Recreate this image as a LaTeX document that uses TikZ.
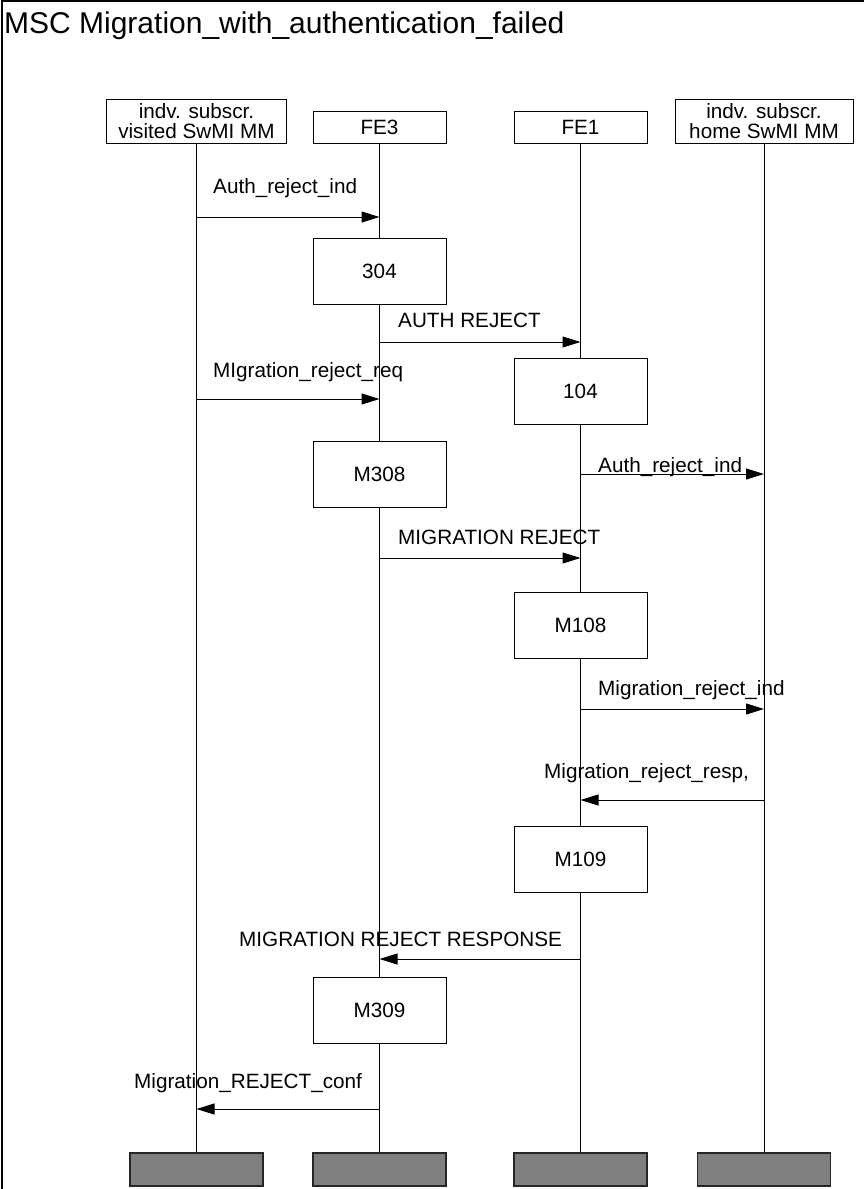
\documentclass[tikz,border=0pt]{standalone}
\usepackage{fontspec}
\setmainfont{Liberation Sans}
\usetikzlibrary{arrows.meta, positioning}
\newcommand\msgfont{\fontsize{20.7}{20.5}\selectfont}
\newcommand\titlefont{\fontsize{30}{32}\selectfont}
\tikzset{
  hdr/.style={rectangle, draw=black, fill=white, line width=1pt,
              align=center, inner sep=1pt, font=\msgfont,
              minimum width=133pt, minimum height=#1},
  hdr/.default=32pt,
  proc/.style={rectangle, draw=black, fill=white, line width=1pt,
               font=\msgfont, minimum width=133pt, minimum height=66pt},
  endbar/.style={rectangle, draw=black!85, fill=black!50, line width=1.2pt,
                 minimum width=133pt, minimum height=33pt},
  life/.style={draw=black, line width=1pt},
  msg/.style={-{Triangle[length=18pt, width=11pt]}, line width=1pt, draw=black},
  lbl/.style={font=\msgfont, inner sep=0pt, anchor=base west}
}

\begin{document}
\begin{tikzpicture}[x=1pt, y=-1pt]
  \useasboundingbox (0,0) rectangle (864,1189);

  %% frame and title
  \draw[line width=1.5pt] (2,1189) -- (2,1) -- (864,1);
  \node[font=\titlefont, inner sep=0pt, anchor=base west] (title) at (4,33)
    {MSC Migration\_with\_authentication\_failed};

  %% instances
  \node[hdr=44pt, minimum width=180pt] (vis)  at (196.5,121) {indv. subscr.\\visited SwMI MM};
  \node[hdr]                           (fe3)  at (379.5,127) {FE3};
  \node[hdr]                           (fe1)  at (580.5,127) {FE1};
  \node[hdr=44pt, minimum width=178pt] (home) at (764,121)   {indv. subscr.\\home SwMI MM};

  %% instance ends
  \node[endbar] (visE)  at (196.5,1169.5) {};
  \node[endbar] (fe3E)  at (379.5,1169.5) {};
  \node[endbar] (fe1E)  at (580.5,1169.5) {};
  \node[endbar] (homeE) at (764,1169.5)   {};

  %% life lines
  \draw[life] (vis.south)  -- (visE.north);
  \draw[life] (fe3.south)  -- (fe3E.north);
  \draw[life] (fe1.south)  -- (fe1E.north);
  \draw[life] (home.south) -- (homeE.north);

  %% actions
  \node[proc] (p304)  at (379.5,271)    {304};
  \node[proc] (p104)  at (580.5,391.5)  {104};
  \node[proc] (pM308) at (379.5,474)    {M308};
  \node[proc] (pM108) at (580.5,625.5)  {M108};
  \node[proc] (pM109) at (580.5,859.5)  {M109};
  \node[proc] (pM309) at (379.5,1010)   {M309};

  %% message levels
  \coordinate (m1) at (0,217);  \coordinate (m2) at (0,342);
  \coordinate (m3) at (0,399);  \coordinate (m4) at (0,474);
  \coordinate (m5) at (0,558);  \coordinate (m6) at (0,709);
  \coordinate (m7) at (0,800);  \coordinate (m8) at (0,959);
  \coordinate (m9) at (0,1109);

  %% messages
  \draw[msg] (vis |- m1) -- (fe3 |- m1);
  \node[lbl] (l1) at (213,193) {Auth\_reject\_ind};
  \draw[msg] (fe3 |- m2) -- (fe1 |- m2);
  \node[lbl] (l2) at (398,327) {AUTH REJECT};
  \draw[msg] (vis |- m3) -- (fe3 |- m3);
  \node[lbl] (l3) at (213,377) {MIgration\_reject\_req};
  \draw[msg] (fe1 |- m4) -- (home |- m4);
  \node[lbl] (l4) at (598,472) {Auth\_reject\_ind};
  \draw[msg] (fe3 |- m5) -- (fe1 |- m5);
  \node[lbl] (l5) at (398,544) {MIGRATION REJECT};
  \draw[msg] (fe1 |- m6) -- (home |- m6);
  \node[lbl] (l6) at (598,695) {Migration\_reject\_ind};
  \draw[msg] (home |- m7) -- (fe1 |- m7);
  \node[lbl] (l7) at (544,778) {Migration\_reject\_resp,};
  \draw[msg] (fe1 |- m8) -- (fe3 |- m8);
  \node[lbl] (l8) at (239,946) {MIGRATION REJECT RESPONSE};
  \draw[msg] (fe3 |- m9) -- (vis |- m9);
  \node[lbl] (l9) at (134,1088) {Migration\_REJECT\_conf};

\end{tikzpicture}
\end{document}
